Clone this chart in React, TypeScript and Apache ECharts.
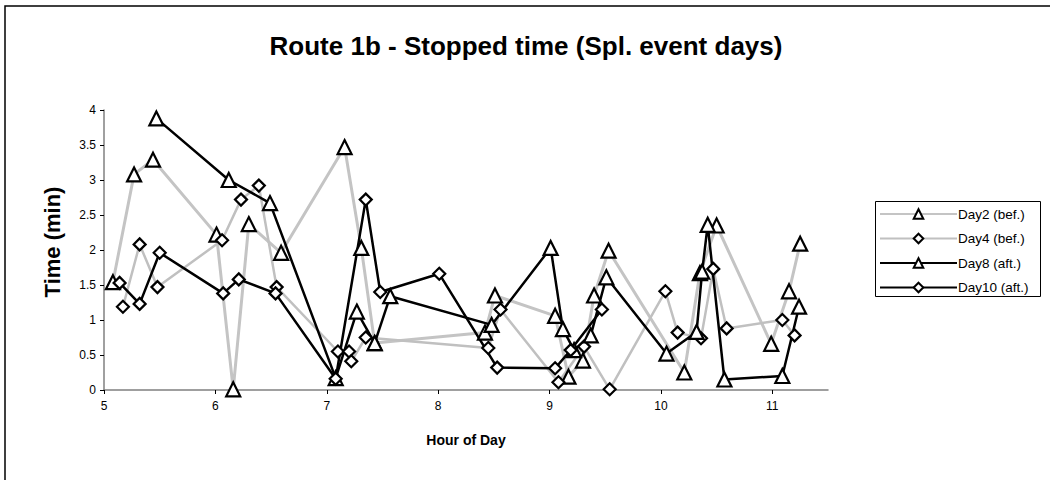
import React, { useEffect, useRef } from "react";
import * as echarts from "echarts";

const titleText = "Route 1b - Stopped time (Spl. event days)";
const xTitle = "Hour of Day";
const yTitle = "Time (min)";
const seriesNames = ["Day2 (bef.)", "Day4 (bef.)", "Day8 (aft.)", "Day10 (aft.)"];

const day2X = [5.08, 5.27, 5.44, 6.01, 6.16, 6.3, 6.59, 7.16, 7.31, 7.43, 8.42, 8.51, 9.05, 9.17, 9.3, 9.4, 9.53, 10.21, 10.35, 10.5, 10.99, 11.15, 11.25];
const day2Y = [1.54, 3.08, 3.29, 2.22, 0.01, 2.37, 1.96, 3.47, 2.03, 0.67, 0.82, 1.35, 1.06, 0.19, 0.42, 1.35, 1.99, 0.25, 1.67, 2.35, 0.66, 1.41, 2.09];

const day4X = [5.17, 5.32, 5.48, 6.06, 6.23, 6.39, 6.55, 7.1, 7.2, 7.22, 7.35, 8.45, 8.56, 9.08, 9.31, 9.54, 10.04, 10.15, 10.36, 10.47, 10.59, 11.09, 11.2];
const day4Y = [1.19, 2.08, 1.47, 2.14, 2.72, 2.92, 1.47, 0.55, 0.55, 0.41, 0.75, 0.6, 1.15, 0.11, 0.62, 0.01, 1.41, 0.82, 0.74, 1.73, 0.88, 1.0, 0.78];

const day8X = [5.47, 6.12, 6.49, 7.08, 7.27, 7.43, 7.57, 8.48, 9.01, 9.12, 9.22, 9.37, 9.51, 10.05, 10.32, 10.37, 10.42, 10.57, 11.09, 11.24];
const day8Y = [3.88, 3.0, 2.67, 0.17, 1.12, 0.67, 1.34, 0.93, 2.03, 0.87, 0.57, 0.78, 1.61, 0.52, 0.83, 1.69, 2.36, 0.15, 0.2, 1.19];

const day10X = [5.14, 5.32, 5.5, 6.07, 6.21, 6.54, 7.08, 7.35, 7.48, 8.01, 8.53, 9.05, 9.19, 9.47];
const day10Y = [1.53, 1.23, 1.96, 1.38, 1.58, 1.38, 0.16, 2.72, 1.4, 1.66, 0.32, 0.31, 0.57, 1.15];

const xMin = 5;
const xMax = 11.5;
const yMin = 0;
const yMax = 4;

function pairs(xs: number[], ys: number[]) {
  return xs.map((x, i) => [x, ys[i]]);
}

export default function App() {
  const ref = useRef<HTMLDivElement>(null);
  useEffect(() => {
    document.body.style.margin = "0";
    const chart = echarts.init(ref.current!, null, { renderer: "svg" });
    const font = "'Liberation Sans', Arial, sans-serif";
    const mk = (name: string, xs: number[], ys: number[], symbol: string, color: string, width: number, size: number) => ({
      type: "line",
      name,
      data: pairs(xs, ys),
      symbol,
      symbolSize: size,
      showAllSymbol: true,
      lineStyle: { color, width },
      itemStyle: { color: "#ffffff", borderColor: "#000000", borderWidth: 2.2 },
      emphasis: { disabled: true },
    });
    chart.setOption({
      animation: false,
      backgroundColor: "#ffffff",
      textStyle: { fontFamily: font },
      grid: { left: 104, right: 222, top: 110, bottom: 90 },
      xAxis: {
        type: "value",
        min: xMin,
        max: xMax,
        interval: 1,
        axisLine: { lineStyle: { color: "#808080", width: 1.5 } },
        axisTick: { show: true, inside: false, length: 4, lineStyle: { color: "#000" } },
        axisLabel: {
          color: "#000",
          fontSize: 12,
          fontFamily: font,
          margin: 10,
          showMaxLabel: false,
          formatter: (v: number) => (Number.isInteger(v) ? String(v) : ""),
        },
        splitLine: { show: false },
      },
      yAxis: {
        type: "value",
        min: yMin,
        max: yMax,
        interval: 0.5,
        axisLine: { show: true, lineStyle: { color: "#808080", width: 1.5 } },
        axisTick: { show: true, length: 4, lineStyle: { color: "#000" } },
        axisLabel: { color: "#000", fontSize: 12, fontFamily: font, margin: 8 },
        splitLine: { show: false },
      },
      legend: {
        left: 879,
        top: 207,
        orient: "vertical",
        itemWidth: 77,
        itemHeight: 12,
        itemGap: 10.5,
        padding: 0,
        textStyle: { fontSize: 13.5, color: "#000", fontFamily: font, padding: [0, 0, 0, -4] },
        data: seriesNames,
      },
      graphic: [
        {
          type: "rect",
          shape: { x: 5, y: 6, width: 1200, height: 700 },
          style: { fill: "none", stroke: "#000", lineWidth: 1.5 },
          silent: true,
        },
        {
          type: "rect",
          shape: { x: 875.5, y: 201.5, width: 165, height: 95 },
          style: { fill: "none", stroke: "#000", lineWidth: 1 },
          silent: true,
        },
        {
          type: "text",
          x: 526,
          y: 46,
          style: { text: titleText, font: `bold 26px ${font}`, fill: "#000", align: "center", verticalAlign: "middle" },
        },
        {
          type: "text",
          x: 466,
          y: 440,
          style: { text: xTitle, font: `bold 14px ${font}`, fill: "#000", align: "center", verticalAlign: "middle" },
        },
        {
          type: "text",
          x: 52,
          y: 242,
          rotation: Math.PI / 2,
          style: { text: yTitle, font: `bold 22px ${font}`, fill: "#000", align: "center", verticalAlign: "middle" },
        },
      ],
      series: [
        mk(seriesNames[0], day2X, day2Y, "triangle", "#c4c4c4", 3, 14),
        mk(seriesNames[1], day4X, day4Y, "diamond", "#c0c0c0", 2.5, 12),
        mk(seriesNames[2], day8X, day8Y, "triangle", "#000000", 2.5, 14),
        mk(seriesNames[3], day10X, day10Y, "diamond", "#000000", 2.5, 12),
      ],
    });
    return () => chart.dispose();
  }, []);
  return <div ref={ref} style={{ width: 1050, height: 480 }} />;
}
